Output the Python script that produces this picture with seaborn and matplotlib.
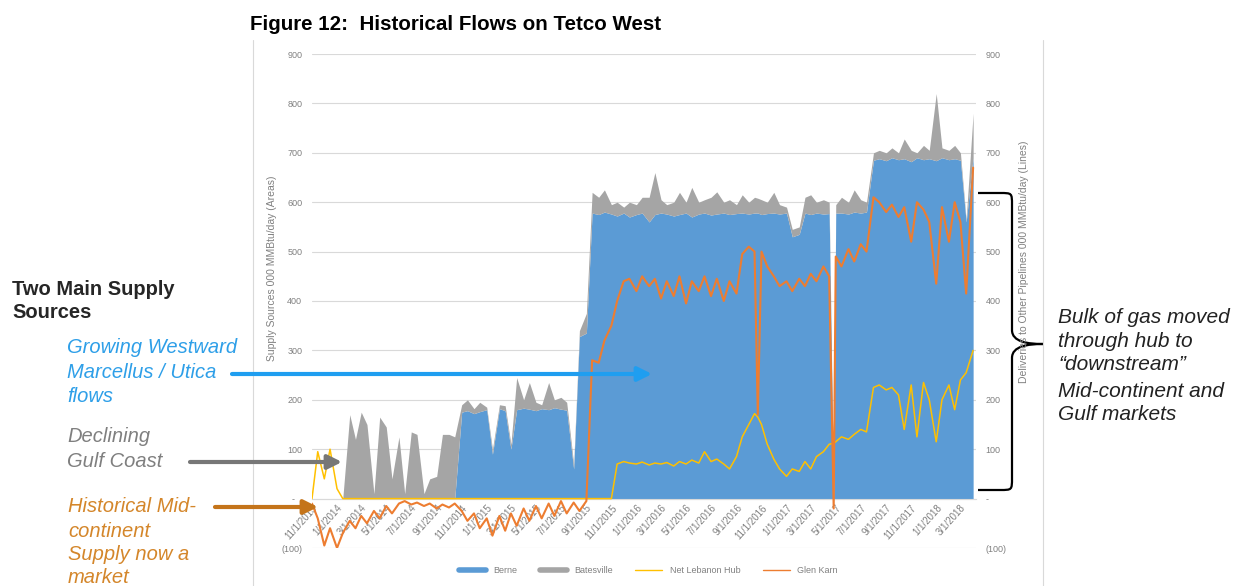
import numpy as np
import pandas as pd
import matplotlib
matplotlib.use("Agg")
import matplotlib.pyplot as plt
import seaborn as sns
from matplotlib.lines import Line2D
from matplotlib.path import Path
from matplotlib.patches import PathPatch

# semi-monthly readings (1st / 15th) from 11/1/2013 to 4/1/2018, 000 MMBtu/day
BERNE = [
    0, 0, 0, 0, 0, 0, 0, 0, 0, 0,
    0, 0, 0, 0, 0, 0, 0, 0, 0, 0,
    0, 0, 0, 0, 175, 178, 172, 176, 180, 90,
    182, 178, 100, 180, 183, 181, 178, 182, 180, 184,
    181, 179, 60, 328, 335, 578, 575, 580, 576, 572,
    578, 570, 575, 578, 560, 575, 578, 576, 572, 575,
    578, 570, 576, 578, 574, 576, 578, 575, 577, 578,
    576, 578, 575, 577, 578, 576, 578, 530, 535, 578,
    575, 578, 576, 577, 578, 578, 576, 580, 578, 580,
    685, 688, 684, 690, 686, 688, 682, 690, 686, 688,
    684, 690, 686, 688, 685, 560, 690,
]
BATESVILLE = [
    0, 0, 0, 0, 0, 0, 170, 120, 175, 150,
    10, 165, 145, 40, 125, 10, 135, 130, 10, 40,
    45, 130, 130, 125, 15, 22, 10, 19, 5, 10,
    8, 10, 10, 65, 17, 54, 17, 8, 55, 16,
    24, 16, 10, 12, 40, 42, 35, 45, 19, 28,
    12, 30, 20, 32, 50, 85, 27, 19, 28, 45,
    22, 60, 24, 27, 36, 45, 22, 30, 18, 37,
    24, 32, 30, 23, 42, 19, 12, 15, 15, 32,
    40, 22, 29, 23, 17, 32, 24, 45, 27, 20,
    15, 17, 16, 20, 14, 40, 23, 10, 29, 17,
    136, 20, 19, 27, 15, 5, 90,
]
NET_LEBANON = [
    0, 95, 40, 100, 20, 0, 0, 0, 0, 0,
    0, 0, 0, 0, 0, 0, 0, 0, 0, 0,
    0, 0, 0, 0, 0, 0, 0, 0, 0, 0,
    0, 0, 0, 0, 0, 0, 0, 0, 0, 0,
    0, 0, 0, 0, 0, 0, 0, 0, 0, 70,
    75, 72, 70, 74, 68, 72, 70, 73, 66, 75,
    70, 78, 72, 95, 75, 80, 70, 60, 85, 125,
    150, 172, 150, 110, 80, 60, 45, 60, 55, 75,
    60, 85, 95, 110, 115, 125, 120, 130, 140, 135,
    225, 230, 220, 225, 210, 140, 230, 125, 235, 200,
    115, 200, 230, 180, 240, 255, 300,
]
GLEN_KARN = [
    -10, -40, -95, -60, -100, -70, -45, -60, -35, -50,
    -25, -40, -15, -30, -10, -5, -12, -8, -15, -10,
    -20, -12, -18, -10, -25, -45, -30, -60, -40, -75,
    -35, -65, -30, -55, -20, -45, -15, -40, -10, -35,
    -5, -30, -8, -25, -5, 280, 275, 320, 350, 400,
    440, 445, 420, 450, 430, 445, 405, 440, 410, 450,
    395, 440, 420, 450, 410, 445, 400, 440, 415, 495,
    510, 500, 500, 470, 450, 430, 440, 420, 445, 430,
    455, 440, 470, 450, 490, 470, 505, 480, 515, 500,
    610, 600, 580, 595, 570, 590, 520, 600, 585, 560,
    435, 590, 520, 600, 560, 415, 670,
]

# single-day outages between the regular readings
EVENT_DATES = ["2016-10-23", "2017-04-26"]
EVENT_BERNE = [578, 0]
EVENT_BATESVILLE = [30, 0]
EVENT_NET_LEBANON = [165, 112]
EVENT_GLEN_KARN = [170, -20]

Y_TICKS = [-100, 0, 100, 200, 300, 400, 500, 600, 700, 800, 900]
Y_LABELS = ["(100)", "-   ", "100", "200", "300", "400", "500", "600", "700", "800", "900"]

BLUE = "#5b9bd5"
GRAY = "#a5a5a5"
YELLOW = "#ffc000"
ORANGE = "#ed7d31"
TICK_GRAY = "#808080"

regular = pd.DataFrame({
    "date": pd.date_range("2013-11-01", "2018-04-01", freq="SMS"),
    "berne": BERNE, "batesville": BATESVILLE,
    "net_lebanon": NET_LEBANON, "glen_karn": GLEN_KARN,
})
events = pd.DataFrame({
    "date": pd.to_datetime(EVENT_DATES), "berne": EVENT_BERNE,
    "batesville": EVENT_BATESVILLE, "net_lebanon": EVENT_NET_LEBANON,
    "glen_karn": EVENT_GLEN_KARN,
})
df = pd.concat([regular, events]).sort_values("date").reset_index(drop=True)

sns.set_theme(style="white")
plt.rcParams["font.family"] = ["Liberation Sans", "DejaVu Sans"]

fig = plt.figure(figsize=(12.35, 5.86), dpi=100)
ax = fig.add_axes([312 / 1235, 1 - 548 / 586, 664 / 1235, 494 / 586])

ax.stackplot(df["date"], df["berne"], df["batesville"],
             colors=[BLUE, GRAY], linewidth=0, zorder=2)

ax2 = ax.twinx()
sns.lineplot(data=df, x="date", y="net_lebanon", ax=ax2, color=YELLOW,
             linewidth=1.1, estimator=None)
sns.lineplot(data=df, x="date", y="glen_karn", ax=ax2, color=ORANGE,
             linewidth=1.5, estimator=None)

tick_dates = pd.date_range("2013-11-01", "2018-03-01", freq="2MS")
tick_labels = [f"{d.month}/{d.day}/{d.year}" for d in tick_dates]

for a in (ax, ax2):
    a.set_ylim(-100, 900)
    a.set_yticks(Y_TICKS)
    a.set_yticklabels(Y_LABELS)
    a.tick_params(axis="y", length=0, labelsize=6.5, labelcolor=TICK_GRAY, pad=7)
    a.set_xlabel("")
    a.set_ylabel("")
    for s in ("left", "right", "top"):
        a.spines[s].set_visible(False)
ax2.spines["bottom"].set_visible(False)

ax.set_xlim(pd.Timestamp("2013-11-01"), pd.Timestamp("2018-04-08"))
ax.set_xticks(tick_dates)
ax.set_xticklabels(tick_labels)
ax.tick_params(axis="x", length=0, labelsize=7, labelcolor=TICK_GRAY, pad=3,
               labelrotation=48)
ax.spines["bottom"].set_position(("data", 0))
ax.spines["bottom"].set_color("#d9d9d9")
ax.spines["bottom"].set_linewidth(0.8)
ax.yaxis.grid(True, color="#d9d9d9", linewidth=0.8, zorder=0)
ax.set_axisbelow(True)

handles = [
    Line2D([], [], color=BLUE, linewidth=4),
    Line2D([], [], color=GRAY, linewidth=4),
    Line2D([], [], color=YELLOW, linewidth=1),
    Line2D([], [], color=ORANGE, linewidth=1),
]
fig.legend(handles, ["Berne", "Batesville", "Net Lebanon Hub", "Glen Karn"],
           loc="center", bbox_to_anchor=(0.525, 0.027), ncol=4, frameon=False,
           fontsize=6.5, labelcolor=TICK_GRAY, handlelength=3, columnspacing=2.5)

# overlay in pixel coordinates for the annotations
ov = fig.add_axes([0, 0, 1, 1])
ov.set_xlim(0, 1235)
ov.set_ylim(586, 0)
ov.axis("off")
ov.patch.set_visible(False)
ov.set_zorder(5)

ov.plot([253, 253], [40, 586], color="#d9d9d9", linewidth=0.8)
ov.plot([1043, 1043], [40, 586], color="#d9d9d9", linewidth=0.8)

ov.text(250, 30, "Figure 12:  Historical Flows on Tetco West", fontsize=14.8,
        fontweight="bold", ha="left", va="baseline", color="black")

ov.text(272, 268, "Supply Sources 000 MMBtu/day (Areas)", rotation=90,
        fontsize=7.5, color=TICK_GRAY, ha="center", va="center")
ov.text(1024, 262, "Deliveries to Other Pipelines 000 MMBtu/day (Lines)",
        rotation=90, fontsize=7.5, color=TICK_GRAY, ha="center", va="center")

for line, y in zip(["Two Main Supply", "Sources"], [295, 318]):
    ov.text(12, y, line, fontsize=14.5, fontweight="bold", va="baseline")
for line, y in zip(["Growing Westward", "Marcellus / Utica", "flows"], [353, 378, 402]):
    ov.text(67, y, line, fontsize=14.5, style="italic", color="#2e9fe8", va="baseline")
for line, y in zip(["Declining", "Gulf Coast"], [442, 467]):
    ov.text(67, y, line, fontsize=14.5, style="italic", color="#7f7f7f", va="baseline")
for line, y in zip(["Historical Mid-", "continent", "Supply now a", "market"],
                   [512, 537, 560, 583]):
    ov.text(68, y, line, fontsize=14.5, style="italic", color="#d4862a", va="baseline")
for line, y in zip(["Bulk of gas moved", "through hub to", "\u201cdownstream\u201d",
                    "Mid-continent and", "Gulf markets"], [323, 347, 370, 397, 420]):
    ov.text(1058, y, line, fontsize=15, style="italic", color="#222222", va="baseline")

for (x0, x1, y, c) in [(232, 652, 374, "#1f9ef0"), (190, 342, 462, "#777777"),
                       (215, 318, 507, "#c4741a")]:
    ov.annotate("", xy=(x1, y), xytext=(x0, y),
                arrowprops=dict(arrowstyle="-|>,head_length=0.7,head_width=0.35",
                                color=c, lw=3, shrinkA=0, shrinkB=0))

verts = [(978, 193), (1000, 193), (1012, 193), (1012, 193), (1012, 205),
         (1012, 330), (1012, 342), (1028, 344), (1043, 344),
         (1043, 344), (1028, 344), (1012, 346), (1012, 358),
         (1012, 478), (1012, 490), (1012, 490), (1000, 490), (978, 490)]
codes = [Path.MOVETO, Path.LINETO, Path.CURVE4, Path.CURVE4, Path.CURVE4,
         Path.LINETO, Path.CURVE4, Path.CURVE4, Path.CURVE4,
         Path.MOVETO, Path.CURVE4, Path.CURVE4, Path.CURVE4,
         Path.LINETO, Path.CURVE4, Path.CURVE4, Path.CURVE4, Path.LINETO]
ov.add_patch(PathPatch(Path(verts, codes), fill=False, edgecolor="black", linewidth=1.6))

fig.canvas.draw()
for lbl in ax.get_xticklabels():
    lbl.set_rotation(48)
    lbl.set_horizontalalignment("right")
    lbl.set_verticalalignment("top")
    lbl.set_rotation_mode("anchor")

fig.savefig("out.png", dpi=100)
